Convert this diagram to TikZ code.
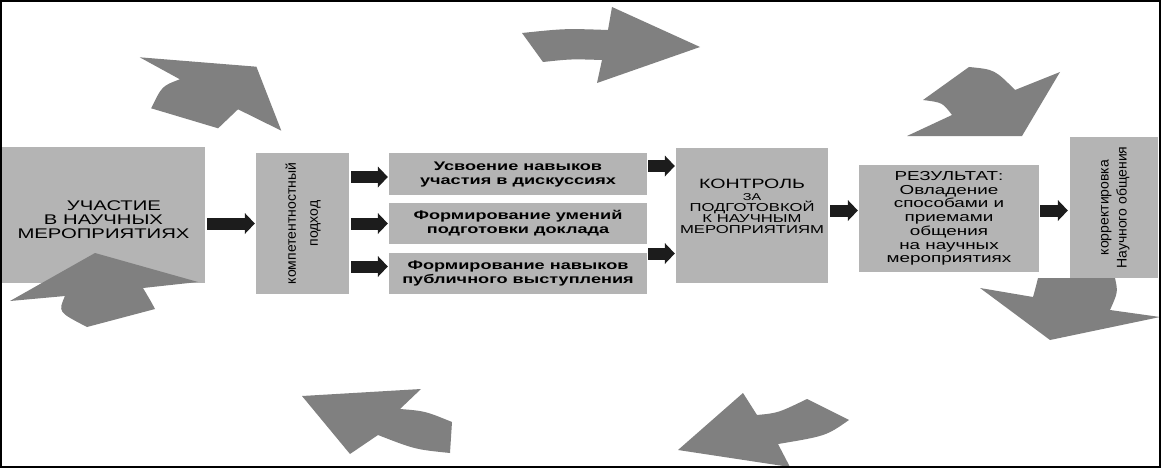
\documentclass[tikz,border=0pt]{standalone}
\usepackage{fontspec}
\usepackage{graphicx}
\setmainfont{Liberation Sans}
\newfontfamily\wf[FakeStretch=1.45]{Liberation Sans}
\usetikzlibrary{arrows.meta,calc}
\definecolor{boxgray}{RGB}{180,180,180}
\definecolor{arrgray}{RGB}{128,128,128}
\definecolor{blkarr}{RGB}{28,28,28}
\begin{document}
\begin{tikzpicture}[x=1pt,y=-1pt,
  box/.style={fill=boxgray, inner sep=0pt, align=center, text=black},
  txt/.style={inner sep=0pt, align=center, text=black},
  blk/.style={draw=blkarr, line width=12pt, -{Triangle[length=10pt,width=21pt,line width=0pt]}},
  bigarr/.style={fill=arrgray, draw=none}]
\useasboundingbox (0,0) rectangle (1161,468);
\fill[white] (0,0) rectangle (1161,468);

% boxes
\node[box, minimum width=203pt, minimum height=136pt] (b1) at (103.5,215) {};
\node[txt, font=\wf\fontsize{14}{14}\selectfont] (b1t) at ($(b1.center)+(0,5)$)
  {\hspace*{21pt}УЧАСТИЕ\\В НАУЧНЫХ\\МЕРОПРИЯТИЯХ};
\node[box, minimum width=93pt, minimum height=141pt, font=\fontsize{14}{22}\selectfont] (komp) at (302.5,223.5)
  {\rotatebox{90}{\begin{tabular}{@{}c@{}}компетентностный\\подход\end{tabular}}};
\node[box, minimum width=258pt, minimum height=42pt, font=\wf\bfseries\fontsize{12.5}{14}\selectfont] (m1) at (518,174)
  {Усвоение навыков\\участия в дискуссиях};
\node[box, minimum width=258pt, minimum height=41pt, font=\wf\bfseries\fontsize{12.5}{14}\selectfont] (m2) at (518,223.5)
  {Формирование умений\\подготовки доклада};
\node[box, minimum width=258pt, minimum height=41pt, font=\wf\bfseries\fontsize{12.5}{14}\selectfont] (m3) at (518,273.5)
  {Формирование навыков\\публичного выступления};
\node[box, minimum width=152pt, minimum height=135pt] (ctrl) at (752,215.5) {};
\node[txt, font=\wf\fontsize{11.5}{11}\selectfont] (ctrlt) at ($(ctrl.center)+(0,-9)$)
  {{\fontsize{13.5}{13.5}\selectfont КОНТРОЛЬ}\\[1pt]{\fontsize{10}{10}\selectfont ЗА}\\ПОДГОТОВКОЙ\\К НАУЧНЫМ\\МЕРОПРИЯТИЯМ};
\node[box, minimum width=180pt, minimum height=107pt, font=\wf\fontsize{13}{13.7}\selectfont] (res) at (949,218.5)
  {РЕЗУЛЬТАТ:\\Овладение\\способами и\\приемами\\общения\\на научных\\мероприятиях};
\node[box, minimum width=88pt, minimum height=141pt, font=\fontsize{14}{18}\selectfont] (korr) at (1114,207.5)
  {\rotatebox{90}{\begin{tabular}{@{}c@{}}корректировка\\Научного общения\end{tabular}}};

% black connectors
\coordinate (a1) at ($(m1.west)+(0,3)$);
\coordinate (a3) at ($(m3.west)+(0,-7)$);
\coordinate (c1) at ($(m1.east)+(0,-8)$);
\coordinate (c2) at ($(m3.east)+(0,-20)$);
\coordinate (c3) at ($(ctrl.east)+(0,-5)$);
\coordinate (c4) at ($(res.east)+(0,-8)$);
\draw[blk, shorten <=2pt, shorten >=1pt] (b1.east |- komp.west) -- (komp.west);
\draw[blk, shorten <=2pt, shorten >=1pt] (komp.east |- a1) -- (a1);
\draw[blk, shorten <=2pt, shorten >=1pt] (komp.east |- m2.west) -- (m2.west);
\draw[blk, shorten <=2pt, shorten >=1pt] (komp.east |- a3) -- (a3);
\draw[blk, shorten <=1pt, shorten >=1pt] (c1) -- (c1 -| ctrl.west);
\draw[blk, shorten <=1pt, shorten >=1pt] (c2) -- (c2 -| ctrl.west);
\draw[blk, shorten <=2pt, shorten >=1pt] (c3) -- (c3 -| res.west);
\draw[blk, shorten <=1pt, shorten >=2pt] (c4) -- (c4 -| korr.west);

% big grey cycle arrows
\fill[bigarr] (139.7,57.3) -- (256.4,66.7) -- (281.3,130.7) -- (238,109.3) -- (218.1,128.3) -- (151.2,108.3) .. controls (162,86) .. (179.9,79.3) -- cycle;
\fill[bigarr] (95,253) -- (198,282) -- (143,288) .. controls (151,301.5) .. (155,309) -- (87,327) .. controls (58,312) .. (65,296) -- (10,301) -- cycle;
\fill[bigarr] (522,33) .. controls (565,28.5) .. (608,30) -- (612,7) -- (700,47) -- (597,83) -- (602,60) .. controls (571,59) .. (543,62) -- cycle;
\fill[bigarr] (969,67) .. controls (994.6,69.5) .. (1015,90) -- (1060,72) -- (1022,136) -- (907,136) -- (952,115) .. controls (942.5,102.5) .. (923,100) -- cycle;
\fill[bigarr] (1038,278) .. controls (1035,290) .. (1033,297) -- (980,288) -- (1050,340) -- (1160,317) -- (1110,310) .. controls (1118,292) .. (1115,278) -- cycle;
\fill[bigarr] (743,393) -- (757,415) .. controls (778,413) .. (807,399) -- (849,420) .. controls (826,436) .. (778,444) -- (790,467) -- (678,450) -- cycle;
\fill[bigarr] (302,396) -- (421,389) -- (400,409) .. controls (425,411) .. (452,422) -- (450,453) .. controls (415,449.4) .. (378,435) -- (350,454) -- cycle;

% frame
\draw[line width=2pt] (1,1) rectangle (1160,467);
\end{tikzpicture}
\end{document}
